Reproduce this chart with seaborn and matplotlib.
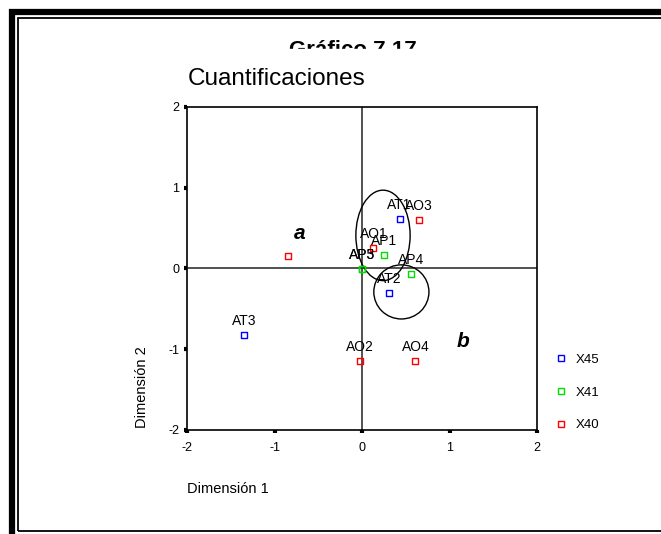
import matplotlib
matplotlib.use("Agg")
import matplotlib.pyplot as plt
import seaborn as sns
import pandas as pd
from matplotlib.patches import Ellipse, Rectangle
from matplotlib.lines import Line2D

#------------------------------------------------------------------
# data
labels = ['AT1', 'AT2', 'AT3',
          'AP1', 'AP3', 'AP4', 'AP5',
          'AO1', 'AO2', 'AO3', 'AO4', '']
dim1 = [0.43, 0.31, -1.35,
        0.25, 0.0, 0.56, 0.0,
        0.13, -0.02, 0.65, 0.61, -0.85]
dim2 = [0.61, -0.30, -0.82,
        0.165, -0.01, -0.07, -0.01,
        0.25, -1.15, 0.60, -1.15, 0.15]
variable = ['X45', 'X45', 'X45',
            'X41', 'X41', 'X41', 'X41',
            'X40', 'X40', 'X40', 'X40', 'X40']
legend_order = ['X45', 'X41', 'X40']
colors = {'X45': '#0000ff', 'X41': '#00dd00', 'X40': '#ff0000'}

df = pd.DataFrame({'label': labels, 'd1': dim1, 'd2': dim2, 'var': variable})

plt.rcParams['font.family'] = ['Liberation Sans', 'DejaVu Sans']
plt.rcParams['axes.unicode_minus'] = False

fig = plt.figure(figsize=(6.61, 5.34), dpi=100)
ax = fig.add_axes([187/661, 1 - 430/534, 350/661, 323/534])

sns.scatterplot(data=df, x='d1', y='d2', hue='var', palette=colors,
                marker='s', s=20, linewidth=1, legend=False, ax=ax, zorder=4)
coll = ax.collections[0]
coll.set_edgecolors(coll.get_facecolors())
coll.set_facecolors('none')

for _, r in df.iterrows():
    if r['label']:
        ax.annotate(r['label'], (r['d1'], r['d2']), xytext=(0, 5),
                    textcoords='offset points', ha='center', va='bottom',
                    fontsize=10, zorder=5)

# reference lines
ax.axvline(0, color='#333333', lw=1.2, zorder=1)
ax.axhline(0, color='#333333', lw=1.2, zorder=1)

# ellipses drawn by hand on the original
ax.add_patch(Ellipse((0.24, 0.41), 0.62, 1.12, fill=False, color='black', lw=1))
ax.add_patch(Ellipse((0.45, -0.29), 0.63, 0.67, fill=False, color='black', lw=1))

ax.text(-0.71, 0.43, 'a', fontsize=15, fontweight='bold', style='italic',
        ha='center', va='center')
ax.text(1.15, -0.9, 'b', fontsize=15, fontweight='bold', style='italic',
        ha='center', va='center')

ax.set_xlim(-2, 2)
ax.set_ylim(-2, 2)
ax.set_xticks([-2, -1, 0, 1, 2])
ax.set_yticks([-2, -1, 0, 1, 2])
ax.tick_params(labelsize=9, length=2.5, width=3)
ax.tick_params(axis='x', pad=6)
ax.tick_params(axis='y', pad=3)
for s in ax.spines.values():
    s.set_linewidth(1.2)
ax.set_xlabel('')
ax.set_ylabel('')

fig.text(187/661, 1 - 489/534, 'Dimensión 1', fontsize=10.5, ha='left', va='center')
fig.text(142/661, 1 - 387/534, 'Dimensión 2', fontsize=10.5, rotation=90,
         ha='center', va='center')

# legend
handles = [Line2D([], [], marker='s', ls='none', markersize=4.5,
                  markerfacecolor='none', markeredgecolor=colors[v],
                  markeredgewidth=1) for v in legend_order]
fig.legend(handles, legend_order, loc='upper left',
           bbox_to_anchor=(549/661, 1 - 347/534), frameon=False,
           fontsize=9.5, labelspacing=1.55, handlelength=0.8,
           handletextpad=0.7, borderpad=0)

# titles: "Gráfico 7.17" is partly covered in the original
fig.text(353/661, 1 - 40/534, 'Gráfico 7.17', fontsize=16, fontweight='bold',
         ha='center', va='top', zorder=2)
fig.patches.append(Rectangle((0.03, 1 - 66/534), 0.9, 17/534,
                             transform=fig.transFigure, color='white', zorder=2.5))
fig.text(188/661, 1 - 79/534, 'Cuantificaciones', fontsize=17.5,
         ha='left', va='center', zorder=3)

# double frame round the figure
fig.patches.append(Rectangle((12/661, -0.1), 1.0, 1 - 12.5/534 + 0.1,
                             transform=fig.transFigure, fill=False,
                             ec='black', lw=4.5, zorder=3))
fig.patches.append(Rectangle((17.5/661, 1 - 531/534), 1.0, (531 - 17.5)/534,
                             transform=fig.transFigure, fill=False,
                             ec='black', lw=1.3, zorder=3))

fig.savefig('out.png', dpi=100)
